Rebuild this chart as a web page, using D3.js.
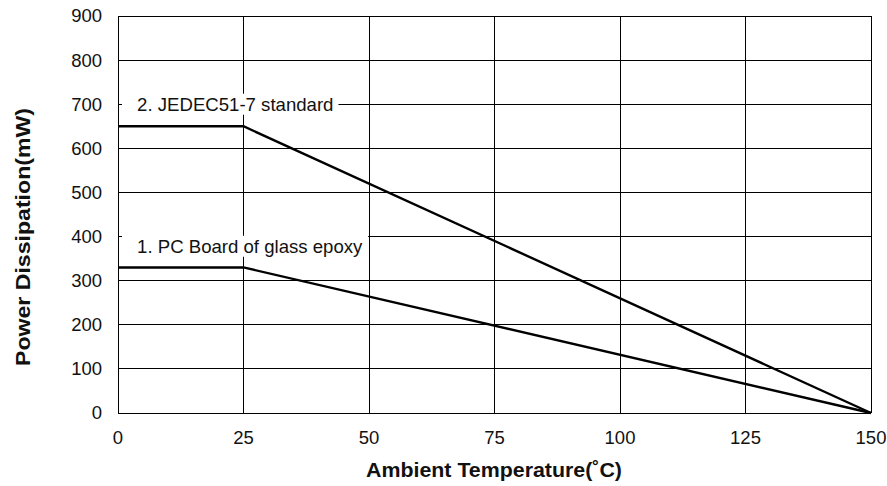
<!DOCTYPE html>
<html>
<head>
<meta charset="utf-8">
<script src="https://cdn.jsdelivr.net/npm/d3@7"></script>
<style>
  html, body { margin: 0; padding: 0; background: #fff; }
  svg { display: block; font-family: "Liberation Sans", Arial, Helvetica, sans-serif; }
</style>
</head>
<body>
<svg id="chart" width="887" height="486"></svg>
<script>
// Derating curves: power dissipation vs ambient temperature
const xTicks = [0, 25, 50, 75, 100, 125, 150];
const yTicks = [0, 100, 200, 300, 400, 500, 600, 700, 800, 900];

const jedecTemp  = [0, 25, 150];
const jedecPower = [650, 650, 0];
const pcbTemp    = [0, 25, 150];
const pcbPower   = [330, 330, 0];

const labels = [
  { text: "2. JEDEC51-7 standard", x: 4, y: 700 },
  { text: "1. PC Board of glass epoxy", x: 4, y: 378 }
];

const svg = d3.select("#chart");
const margin = { left: 118, right: 16, top: 16, bottom: 73 };
const W = 887, H = 486;

const x = d3.scaleLinear().domain([0, 150]).range([margin.left, W - margin.right]);
const y = d3.scaleLinear().domain([0, 900]).range([H - margin.bottom, margin.top]);

// grid
const grid = svg.append("g").attr("stroke", "#000").attr("stroke-width", 1).attr("shape-rendering", "crispEdges");
grid.selectAll("line.v").data(xTicks).join("line")
  .attr("x1", d => x(d)).attr("x2", d => x(d))
  .attr("y1", y(0)).attr("y2", y(900));
grid.selectAll("line.h").data(yTicks).join("line")
  .attr("y1", d => y(d)).attr("y2", d => y(d))
  .attr("x1", x(0)).attr("x2", x(150));

// tick labels
svg.append("g").selectAll("text").data(yTicks).join("text")
  .attr("x", x(0) - 16).attr("y", d => y(d)).attr("dy", "0.35em")
  .attr("text-anchor", "end").attr("font-size", 18.5).attr("fill", "#111")
  .text(d => d);
svg.append("g").selectAll("text").data(xTicks).join("text")
  .attr("x", d => x(d)).attr("y", y(0) + 25).attr("dy", "0.35em")
  .attr("text-anchor", "middle").attr("font-size", 18.5).attr("fill", "#111")
  .text(d => d);

// curve labels with white backing
labels.forEach(l => {
  const g = svg.append("g");
  const t = g.append("text")
    .attr("x", x(l.x) - 1).attr("y", y(l.y)).attr("dy", "0.35em")
    .attr("font-size", 18.6).attr("fill", "#111").text(l.text);
  const bb = t.node().getBBox();
  g.insert("rect", "text")
    .attr("x", x(0) + 4).attr("y", bb.y)
    .attr("width", bb.x + bb.width + 5 - (x(0) + 4)).attr("height", bb.height)
    .attr("fill", "#fff");
});

// curves
const line = d3.line().x(d => x(d[0])).y(d => y(d[1]));
[[jedecTemp, jedecPower], [pcbTemp, pcbPower]].forEach(([t, p]) => {
  svg.append("path")
    .datum(t.map((v, i) => [v, p[i]]))
    .attr("d", line).attr("fill", "none")
    .attr("stroke", "#000").attr("stroke-width", 2.4);
});

// axis titles
svg.append("text")
  .attr("x", 494).attr("y", 477)
  .attr("text-anchor", "middle").attr("font-size", 19.5).attr("font-weight", "bold").attr("fill", "#111")
  .attr("textLength", 256).attr("lengthAdjust", "spacingAndGlyphs")
  .text("Ambient Temperature(˚C)");
svg.append("text")
  .attr("transform", "translate(30,237) rotate(-90)")
  .attr("text-anchor", "middle").attr("font-size", 19.5).attr("font-weight", "bold").attr("fill", "#111")
  .attr("textLength", 258).attr("lengthAdjust", "spacingAndGlyphs")
  .text("Power Dissipation(mW)");
</script>
</body>
</html>
